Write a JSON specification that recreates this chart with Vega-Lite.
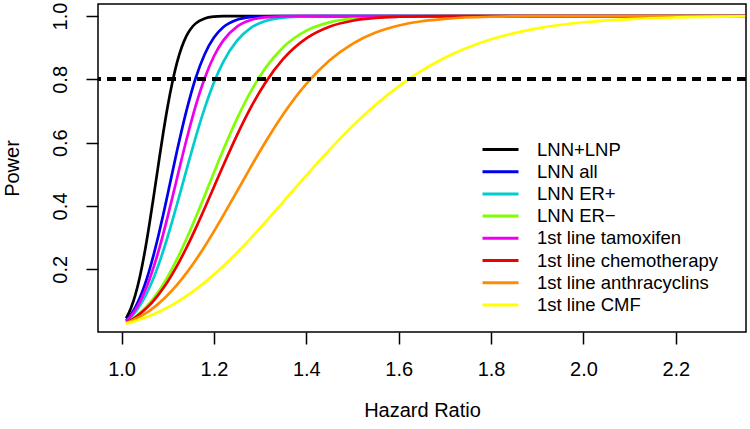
{
  "$schema": "https://vega.github.io/schema/vega-lite/v6.json",
  "width": 648,
  "height": 328,
  "autosize": {"type": "none"},
  "padding": {"left": 98, "top": 4, "right": 4, "bottom": 97},
  "background": "white",
  "config": {
    "view": {"stroke": "black", "strokeWidth": 1.5},
    "font": "Liberation Sans",
    "axis": {"grid": false, "domain": false, "tickColor": "black", "tickWidth": 1.5, "tickSize": 12, "labelColor": "black", "labelFont": "Liberation Sans", "labelFontSize": 20, "titleFont": "Liberation Sans", "titleFontSize": 20, "titleFontWeight": "normal", "titleColor": "black"}
  },
  "data": {"values": [
    {"s":"LNN+LNP","x":1.01,"y":0.045},{"s":"LNN+LNP","x":1.02,"y":0.076},{"s":"LNN+LNP","x":1.03,"y":0.120},{"s":"LNN+LNP","x":1.04,"y":0.179},{"s":"LNN+LNP","x":1.05,"y":0.253},{"s":"LNN+LNP","x":1.06,"y":0.340},{"s":"LNN+LNP","x":1.07,"y":0.435},{"s":"LNN+LNP","x":1.08,"y":0.533},{"s":"LNN+LNP","x":1.09,"y":0.629},{"s":"LNN+LNP","x":1.10,"y":0.716},{"s":"LNN+LNP","x":1.11,"y":0.791},{"s":"LNN+LNP","x":1.12,"y":0.853},{"s":"LNN+LNP","x":1.13,"y":0.9006},{"s":"LNN+LNP","x":1.14,"y":0.936},{"s":"LNN+LNP","x":1.15,"y":0.960},{"s":"LNN+LNP","x":1.16,"y":0.976},{"s":"LNN+LNP","x":1.18,"y":0.9925},{"s":"LNN+LNP","x":1.20,"y":0.998},{"s":"LNN+LNP","x":1.22,"y":0.9995},{"s":"LNN+LNP","x":1.25,"y":1},{"s":"LNN+LNP","x":2.35,"y":1},
    {"s":"LNN all","x":1.01,"y":0.0382},{"s":"LNN all","x":1.02,"y":0.0565},{"s":"LNN all","x":1.03,"y":0.0808},{"s":"LNN all","x":1.04,"y":0.1116},{"s":"LNN all","x":1.05,"y":0.150},{"s":"LNN all","x":1.06,"y":0.196},{"s":"LNN all","x":1.07,"y":0.249},{"s":"LNN all","x":1.08,"y":0.3075},{"s":"LNN all","x":1.09,"y":0.371},{"s":"LNN all","x":1.10,"y":0.438},{"s":"LNN all","x":1.12,"y":0.5735},{"s":"LNN all","x":1.14,"y":0.698},{"s":"LNN all","x":1.16,"y":0.802},{"s":"LNN all","x":1.18,"y":0.8795},{"s":"LNN all","x":1.20,"y":0.932},{"s":"LNN all","x":1.22,"y":0.9644},{"s":"LNN all","x":1.25,"y":0.988},{"s":"LNN all","x":1.28,"y":0.9966},{"s":"LNN all","x":1.31,"y":0.9992},{"s":"LNN all","x":1.35,"y":1},{"s":"LNN all","x":2.35,"y":1},
    {"s":"LNN ER+","x":1.01,"y":0.0352},{"s":"LNN ER+","x":1.02,"y":0.0487},{"s":"LNN ER+","x":1.03,"y":0.0653},{"s":"LNN ER+","x":1.04,"y":0.0864},{"s":"LNN ER+","x":1.05,"y":0.1113},{"s":"LNN ER+","x":1.06,"y":0.141},{"s":"LNN ER+","x":1.07,"y":0.175},{"s":"LNN ER+","x":1.08,"y":0.2141},{"s":"LNN ER+","x":1.09,"y":0.257},{"s":"LNN ER+","x":1.10,"y":0.3036},{"s":"LNN ER+","x":1.12,"y":0.405},{"s":"LNN ER+","x":1.14,"y":0.511},{"s":"LNN ER+","x":1.16,"y":0.6147},{"s":"LNN ER+","x":1.18,"y":0.709},{"s":"LNN ER+","x":1.20,"y":0.790},{"s":"LNN ER+","x":1.22,"y":0.8546},{"s":"LNN ER+","x":1.25,"y":0.9224},{"s":"LNN ER+","x":1.28,"y":0.9628},{"s":"LNN ER+","x":1.31,"y":0.9835},{"s":"LNN ER+","x":1.35,"y":0.9952},{"s":"LNN ER+","x":1.40,"y":0.9992},{"s":"LNN ER+","x":1.45,"y":1},{"s":"LNN ER+","x":2.35,"y":1},
    {"s":"LNN ER−","x":1.01,"y":0.032},{"s":"LNN ER−","x":1.02,"y":0.0404},{"s":"LNN ER−","x":1.03,"y":0.0505},{"s":"LNN ER−","x":1.04,"y":0.0624},{"s":"LNN ER−","x":1.05,"y":0.0761},{"s":"LNN ER−","x":1.06,"y":0.092},{"s":"LNN ER−","x":1.07,"y":0.1099},{"s":"LNN ER−","x":1.08,"y":0.13},{"s":"LNN ER−","x":1.09,"y":0.1523},{"s":"LNN ER−","x":1.10,"y":0.1768},{"s":"LNN ER−","x":1.12,"y":0.2319},{"s":"LNN ER−","x":1.14,"y":0.2943},{"s":"LNN ER−","x":1.16,"y":0.362},{"s":"LNN ER−","x":1.18,"y":0.4335},{"s":"LNN ER−","x":1.20,"y":0.5058},{"s":"LNN ER−","x":1.22,"y":0.5767},{"s":"LNN ER−","x":1.25,"y":0.676},{"s":"LNN ER−","x":1.28,"y":0.762},{"s":"LNN ER−","x":1.31,"y":0.8326},{"s":"LNN ER−","x":1.35,"y":0.9015},{"s":"LNN ER−","x":1.40,"y":0.9539},{"s":"LNN ER−","x":1.45,"y":0.9801},{"s":"LNN ER−","x":1.50,"y":0.9925},{"s":"LNN ER−","x":1.55,"y":0.9973},{"s":"LNN ER−","x":1.60,"y":0.9991},{"s":"LNN ER−","x":1.70,"y":1},{"s":"LNN ER−","x":2.35,"y":1},
    {"s":"1st line tamoxifen","x":1.01,"y":0.0367},{"s":"1st line tamoxifen","x":1.02,"y":0.0524},{"s":"1st line tamoxifen","x":1.03,"y":0.0727},{"s":"1st line tamoxifen","x":1.04,"y":0.098},{"s":"1st line tamoxifen","x":1.05,"y":0.1295},{"s":"1st line tamoxifen","x":1.06,"y":0.1663},{"s":"1st line tamoxifen","x":1.07,"y":0.209},{"s":"1st line tamoxifen","x":1.08,"y":0.2575},{"s":"1st line tamoxifen","x":1.09,"y":0.3106},{"s":"1st line tamoxifen","x":1.10,"y":0.3673},{"s":"1st line tamoxifen","x":1.12,"y":0.487},{"s":"1st line tamoxifen","x":1.14,"y":0.606},{"s":"1st line tamoxifen","x":1.16,"y":0.714},{"s":"1st line tamoxifen","x":1.18,"y":0.8035},{"s":"1st line tamoxifen","x":1.20,"y":0.873},{"s":"1st line tamoxifen","x":1.22,"y":0.9223},{"s":"1st line tamoxifen","x":1.25,"y":0.9667},{"s":"1st line tamoxifen","x":1.28,"y":0.9873},{"s":"1st line tamoxifen","x":1.31,"y":0.9957},{"s":"1st line tamoxifen","x":1.35,"y":0.9992},{"s":"1st line tamoxifen","x":1.40,"y":1},{"s":"1st line tamoxifen","x":2.35,"y":1},
    {"s":"1st line chemotherapy","x":1.01,"y":0.0316},{"s":"1st line chemotherapy","x":1.02,"y":0.0394},{"s":"1st line chemotherapy","x":1.03,"y":0.0486},{"s":"1st line chemotherapy","x":1.04,"y":0.0594},{"s":"1st line chemotherapy","x":1.05,"y":0.0719},{"s":"1st line chemotherapy","x":1.06,"y":0.0861},{"s":"1st line chemotherapy","x":1.07,"y":0.1022},{"s":"1st line chemotherapy","x":1.08,"y":0.12},{"s":"1st line chemotherapy","x":1.09,"y":0.1399},{"s":"1st line chemotherapy","x":1.10,"y":0.1616},{"s":"1st line chemotherapy","x":1.12,"y":0.2107},{"s":"1st line chemotherapy","x":1.14,"y":0.2665},{"s":"1st line chemotherapy","x":1.16,"y":0.3278},{"s":"1st line chemotherapy","x":1.18,"y":0.3928},{"s":"1st line chemotherapy","x":1.20,"y":0.4602},{"s":"1st line chemotherapy","x":1.22,"y":0.527},{"s":"1st line chemotherapy","x":1.25,"y":0.624},{"s":"1st line chemotherapy","x":1.28,"y":0.7116},{"s":"1st line chemotherapy","x":1.31,"y":0.7863},{"s":"1st line chemotherapy","x":1.35,"y":0.8645},{"s":"1st line chemotherapy","x":1.40,"y":0.9294},{"s":"1st line chemotherapy","x":1.45,"y":0.9663},{"s":"1st line chemotherapy","x":1.50,"y":0.9852},{"s":"1st line chemotherapy","x":1.55,"y":0.994},{"s":"1st line chemotherapy","x":1.60,"y":0.9977},{"s":"1st line chemotherapy","x":1.65,"y":0.9992},{"s":"1st line chemotherapy","x":1.75,"y":1},{"s":"1st line chemotherapy","x":2.35,"y":1},
    {"s":"1st line anthracyclins","x":1.01,"y":0.0302},{"s":"1st line anthracyclins","x":1.02,"y":0.0361},{"s":"1st line anthracyclins","x":1.03,"y":0.043},{"s":"1st line anthracyclins","x":1.04,"y":0.0506},{"s":"1st line anthracyclins","x":1.05,"y":0.0593},{"s":"1st line anthracyclins","x":1.06,"y":0.069},{"s":"1st line anthracyclins","x":1.07,"y":0.0798},{"s":"1st line anthracyclins","x":1.08,"y":0.0917},{"s":"1st line anthracyclins","x":1.09,"y":0.1048},{"s":"1st line anthracyclins","x":1.10,"y":0.119},{"s":"1st line anthracyclins","x":1.12,"y":0.1508},{"s":"1st line anthracyclins","x":1.14,"y":0.1872},{"s":"1st line anthracyclins","x":1.16,"y":0.2279},{"s":"1st line anthracyclins","x":1.18,"y":0.2722},{"s":"1st line anthracyclins","x":1.20,"y":0.3197},{"s":"1st line anthracyclins","x":1.22,"y":0.3695},{"s":"1st line anthracyclins","x":1.25,"y":0.4464},{"s":"1st line anthracyclins","x":1.28,"y":0.5236},{"s":"1st line anthracyclins","x":1.31,"y":0.598},{"s":"1st line anthracyclins","x":1.35,"y":0.6897},{"s":"1st line anthracyclins","x":1.40,"y":0.7859},{"s":"1st line anthracyclins","x":1.45,"y":0.8596},{"s":"1st line anthracyclins","x":1.50,"y":0.9123},{"s":"1st line anthracyclins","x":1.55,"y":0.9477},{"s":"1st line anthracyclins","x":1.60,"y":0.9702},{"s":"1st line anthracyclins","x":1.65,"y":0.9836},{"s":"1st line anthracyclins","x":1.70,"y":0.9913},{"s":"1st line anthracyclins","x":1.80,"y":0.9978},{"s":"1st line anthracyclins","x":1.90,"y":0.9995},{"s":"1st line anthracyclins","x":2.00,"y":1},{"s":"1st line anthracyclins","x":2.35,"y":1},
    {"s":"1st line CMF","x":1.01,"y":0.0286},{"s":"1st line CMF","x":1.02,"y":0.0325},{"s":"1st line CMF","x":1.03,"y":0.0368},{"s":"1st line CMF","x":1.04,"y":0.0416},{"s":"1st line CMF","x":1.05,"y":0.0468},{"s":"1st line CMF","x":1.06,"y":0.0525},{"s":"1st line CMF","x":1.07,"y":0.0585},{"s":"1st line CMF","x":1.08,"y":0.0651},{"s":"1st line CMF","x":1.09,"y":0.0722},{"s":"1st line CMF","x":1.10,"y":0.0797},{"s":"1st line CMF","x":1.12,"y":0.0963},{"s":"1st line CMF","x":1.14,"y":0.1151},{"s":"1st line CMF","x":1.16,"y":0.1359},{"s":"1st line CMF","x":1.18,"y":0.1587},{"s":"1st line CMF","x":1.20,"y":0.1834},{"s":"1st line CMF","x":1.22,"y":0.21},{"s":"1st line CMF","x":1.25,"y":0.2528},{"s":"1st line CMF","x":1.28,"y":0.2987},{"s":"1st line CMF","x":1.31,"y":0.3469},{"s":"1st line CMF","x":1.35,"y":0.4132},{"s":"1st line CMF","x":1.40,"y":0.4966},{"s":"1st line CMF","x":1.45,"y":0.5773},{"s":"1st line CMF","x":1.50,"y":0.6523},{"s":"1st line CMF","x":1.55,"y":0.7196},{"s":"1st line CMF","x":1.60,"y":0.7778},{"s":"1st line CMF","x":1.65,"y":0.8275},{"s":"1st line CMF","x":1.70,"y":0.8681},{"s":"1st line CMF","x":1.80,"y":0.9264},{"s":"1st line CMF","x":1.90,"y":0.961},{"s":"1st line CMF","x":2.00,"y":0.9803},{"s":"1st line CMF","x":2.10,"y":0.9904},{"s":"1st line CMF","x":2.20,"y":0.9955},{"s":"1st line CMF","x":2.35,"y":0.9986}
  ]},
  "layer": [
    {
      "mark": {"type": "line", "interpolate": "monotone", "strokeWidth": 2.7, "clip": true},
      "encoding": {
        "x": {"field": "x", "type": "quantitative", "scale": {"domain": [0.949, 2.352], "nice": false, "zero": false},
              "axis": {"values": [1.0, 1.2, 1.4, 1.6, 1.8, 2.0, 2.2], "format": ".1f", "labelPadding": 15, "title": "Hazard Ratio", "titleBaseline": "middle", "titleY": 78, "titleX": 324}},
        "y": {"field": "y", "type": "quantitative", "scale": {"domain": [0.002, 1.038], "nice": false, "zero": false},
              "axis": {"values": [0.2, 0.4, 0.6, 0.8, 1.0], "format": ".1f", "labelAngle": -90, "labelAlign": "center", "labelBaseline": "bottom", "labelPadding": 16, "title": "Power", "titleAngle": 270, "titleBaseline": "middle", "titleAlign": "center", "titleX": -86, "titleY": 164}},
        "color": {"field": "s", "type": "nominal",
                  "scale": {"domain": ["LNN+LNP", "LNN all", "LNN ER+", "LNN ER−", "1st line tamoxifen", "1st line chemotherapy", "1st line anthracyclins", "1st line CMF"],
                            "range": ["#000000", "#0000EE", "#00CDCD", "#7FFF00", "#EE00EE", "#EE0000", "#FF8C00", "#FFFF00"]},
                  "legend": {"title": null, "orient": "none", "legendX": 392, "legendY": 135, "padding": 0, "symbolType": "M-2,0H2", "symbolSize": 324, "symbolStrokeWidth": 3, "labelFontSize": 18.5, "labelFont": "Liberation Sans", "labelColor": "black", "labelOffset": 26, "rowPadding": 2.2, "labelLimit": 400}}
      }
    },
    {
      "mark": {"type": "rule", "color": "black", "strokeWidth": 3, "strokeDash": [9, 6]},
      "encoding": {"y": {"datum": 0.8}}
    }
  ]
}
